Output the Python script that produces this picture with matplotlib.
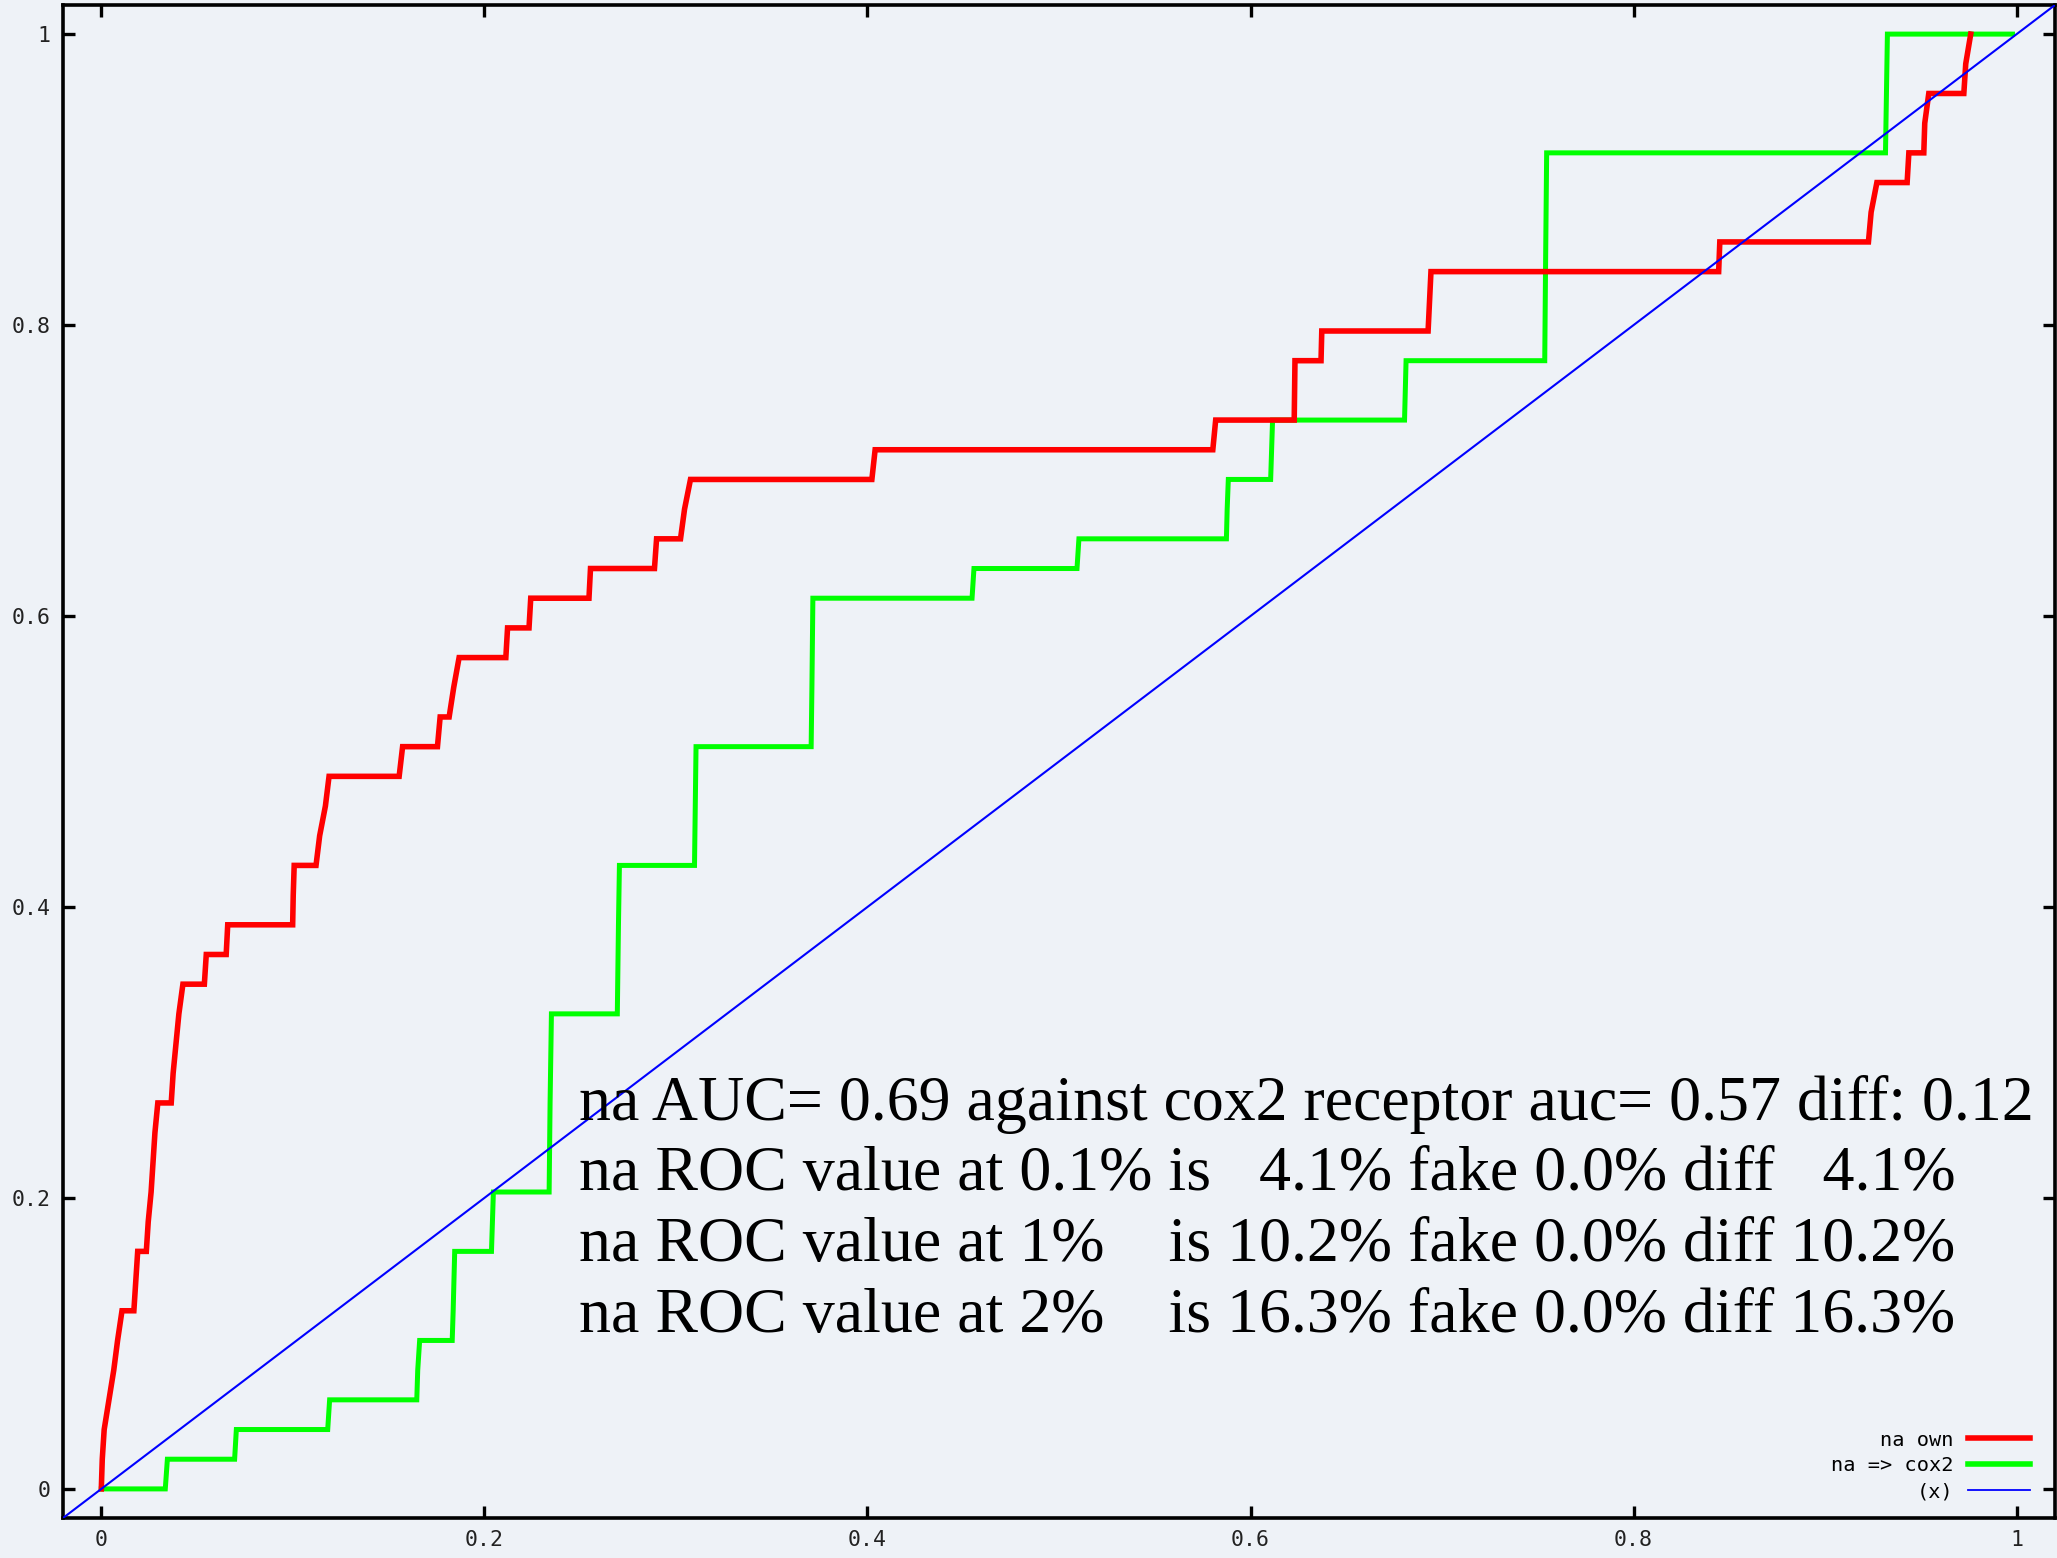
import numpy as np
import matplotlib.pyplot as plt
from matplotlib.lines import Line2D

# ROC points: false positive rate and number of actives found (out of 49)
n_actives = 49

red_fpr = [0.0, 0.0005, 0.0015, 0.004, 0.0065, 0.0085, 0.0108, 0.017, 0.018, 0.019,
           0.0235, 0.0245, 0.026, 0.027, 0.028, 0.0295, 0.0365, 0.0375, 0.039, 0.0405,
           0.0426, 0.0538, 0.0548, 0.0652, 0.0660, 0.0999, 0.1002, 0.1007, 0.1121, 0.1140,
           0.1170, 0.1189, 0.1555, 0.1573, 0.1755, 0.1769, 0.1816, 0.1840, 0.1868, 0.2112,
           0.2121, 0.2233, 0.2242, 0.2546, 0.2554, 0.2888, 0.2899, 0.3024, 0.3045, 0.3076,
           0.4023, 0.4040, 0.5803, 0.5818, 0.6228, 0.6232, 0.6368, 0.6372, 0.6927, 0.6942,
           0.8444, 0.8450, 0.9226, 0.9240, 0.9270, 0.9428, 0.9437, 0.9515, 0.9520, 0.9541,
           0.9724, 0.9734, 0.9760]
red_hits = [0, 1, 2, 3, 4, 5, 6, 6, 7, 8,
            8, 9, 10, 11, 12, 13, 13, 14, 15, 16,
            17, 17, 18, 18, 19, 19, 20, 21, 21, 22,
            23, 24, 24, 25, 25, 26, 26, 27, 28, 28,
            29, 29, 30, 30, 31, 31, 32, 32, 33, 34,
            34, 35, 35, 36, 36, 38, 38, 39, 39, 41,
            41, 42, 42, 43, 44, 44, 45, 45, 46, 47,
            47, 48, 49]

green_fpr = [0.0, 0.0334, 0.0345, 0.0696, 0.0705, 0.1182, 0.1192, 0.1647, 0.1652, 0.1662,
             0.1832, 0.1837, 0.1845, 0.2037, 0.2047, 0.2338, 0.2343, 0.2350, 0.2694, 0.2700,
             0.2705, 0.3097, 0.3105, 0.3706, 0.3710, 0.3715, 0.4546, 0.4556, 0.5094, 0.5104,
             0.5874, 0.5878, 0.5884, 0.6105, 0.6110, 0.6115, 0.6804, 0.6808, 0.6812, 0.7536,
             0.7540, 0.7546, 0.9315, 0.9320, 0.9325, 0.9978]
green_hits = [0, 0, 1, 1, 2, 2, 3, 3, 4, 5,
              5, 6, 8, 8, 10, 10, 13, 16, 16, 19,
              21, 21, 25, 25, 27, 30, 30, 31, 31, 32,
              32, 33, 34, 34, 35, 36, 36, 37, 38, 38,
              41, 45, 45, 47, 49, 49]

series_labels = ['na own', 'na => cox2', '(x)']
tick_values = [0, 0.2, 0.4, 0.6, 0.8, 1]
tick_labels = ['0', '0.2', '0.4', '0.6', '0.8', '1']

summary_lines = [
    'na AUC= 0.69 against cox2 receptor auc= 0.57 diff: 0.12',
    'na ROC value at 0.1% is   4.1% fake 0.0% diff   4.1%',
    'na ROC value at 1%    is 10.2% fake 0.0% diff 10.2%',
    'na ROC value at 2%    is 16.3% fake 0.0% diff 16.3%',
]

bg = '#eef2f7'
W, H = 2057, 1558
fig = plt.figure(figsize=(W / 100, H / 100), dpi=100, facecolor=bg)
ax = fig.add_axes([63 / W, 1 - 1518 / H, (2055 - 63) / W, (1518 - 5) / H])
ax.set_facecolor(bg)

red_tpr = np.array(red_hits) / n_actives
green_tpr = np.array(green_hits) / n_actives

ax.plot(green_fpr, green_tpr, color='#00ff00', lw=3.6, zorder=2,
        solid_joinstyle='miter')
ax.plot(red_fpr, red_tpr, color='#ff0000', lw=4.0, zorder=3,
        solid_joinstyle='miter')
ax.axline((0, 0), slope=1, color='#0000ff', lw=1.5, zorder=4)

ax.set_xlim(-0.02, 1.02)
ax.set_ylim(-0.02, 1.02)

for s in ax.spines.values():
    s.set_linewidth(2.6)
    s.set_color('black')

ax.set_xticks(tick_values)
ax.set_xticklabels(tick_labels)
ax.set_yticks(tick_values)
ax.set_yticklabels(tick_labels)
ax.tick_params(direction='in', length=8.5, width=2.4, top=True, right=True,
               labelsize=15.5, labelcolor='#222222')
ax.tick_params(axis='x', pad=9)
ax.tick_params(axis='y', pad=9)
for lab in ax.get_xticklabels() + ax.get_yticklabels():
    lab.set_family('DejaVu Sans Mono')

# summary text block
y0 = [0.2536, 0.2055, 0.1567, 0.1079]
for line, yy in zip(summary_lines, y0):
    ax.text(0.2492, yy, line, family='Liberation Serif', fontsize=46,
            va='baseline', ha='left', color='black', zorder=5)

handles = [Line2D([], [], color='#ff0000', lw=4.0),
           Line2D([], [], color='#00ff00', lw=4.0),
           Line2D([], [], color='#0000ff', lw=1.3)]
leg = ax.legend(handles, series_labels, loc='lower right',
                bbox_to_anchor=(0.9875, 0.011), frameon=False, markerfirst=False,
                prop={'family': 'DejaVu Sans Mono', 'size': 14.6},
                handlelength=3.05, handletextpad=0.74, labelspacing=0.34,
                borderpad=0, borderaxespad=0)

fig.savefig('out.png', dpi=100, facecolor=bg)
